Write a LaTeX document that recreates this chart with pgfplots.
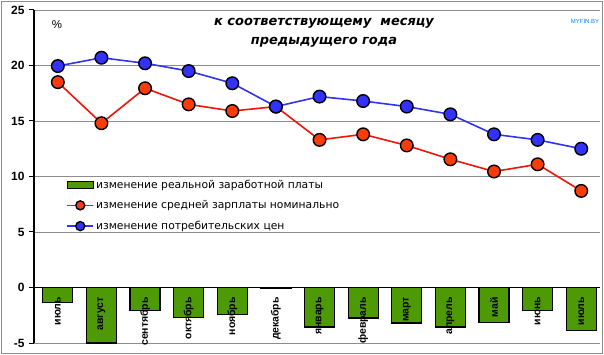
\documentclass[border=0pt]{standalone}
\usepackage{pgfplots}
\pgfplotsset{compat=1.18}
\usepackage{fontspec}
\setmainfont{DejaVu Sans}
\newfontfamily\arialf{Liberation Sans}
\definecolor{barg}{RGB}{78,154,6}
\definecolor{redl}{RGB}{240,20,10}
\definecolor{redm}{RGB}{250,60,10}
\definecolor{bluel}{RGB}{50,50,240}
\definecolor{bluem}{RGB}{50,50,250}
\definecolor{gridg}{RGB}{140,140,140}
\pgfplotsset{
  layers/mine/.define layer set={axis background,axis grid,axis ticks,axis lines,main,axis tick labels,axis descriptions,axis foreground}{
    grid style={/pgfplots/on layer=axis grid},
    tick style={/pgfplots/on layer=axis ticks},
    axis line style={/pgfplots/on layer=axis lines},
    label style={/pgfplots/on layer=axis descriptions},
    legend style={/pgfplots/on layer=axis descriptions},
    title style={/pgfplots/on layer=axis descriptions},
    colorbar style={/pgfplots/on layer=axis descriptions},
    ticklabel style={/pgfplots/on layer=axis tick labels},
  },
}
\begin{document}
\begin{tikzpicture}
\path (-34bp,-12bp) rectangle (570bp,343bp);
\draw[gridg, line width=1bp] (-32.5bp,-10.5bp) rectangle (568.5bp,341.5bp);
\begin{axis}[
  set layers=mine,
  scale only axis,
  width=566bp, height=333bp,
  xmin=-0.546, xmax=12.43,
  ymin=-5, ymax=25,
  ytick={-5,0,...,25},
  axis y line*=left,
  axis x line*=bottom,
  x axis line style={draw=none},
  y axis line style={black, line width=1.3bp},
  ytick style={black, line width=1bp},
  major tick length=5bp,
  tick align=outside,
  xtick={0,...,12},
  xtick style={draw=none},
  xticklabels={июль,август,сентябрь,октябрь,ноябрь,декабрь,январь,февраль,март,апрель,май,июнь,июль},
  xticklabel style={rotate=90, anchor=east, font=\arialf\bfseries\fontsize{10.5}{11}\selectfont, xshift=51bp, inner sep=0pt},
  yticklabel style={font=\arialf\bfseries\fontsize{12}{13}\selectfont, xshift=-1bp},
  /pgf/number format/assume math mode=true,
  ymajorgrids,
  grid style={gridg, line width=0.9bp},
  extra y ticks={0},
  extra y tick labels={},
  extra y tick style={grid style={black, line width=1.4bp}, major tick length=0pt},
  legend style={draw=none, fill=none, at={(axis description cs:0.057,0.497)}, anchor=north west,
    font=\fontsize{10.8}{12}\selectfont, row sep=7bp, inner sep=0pt},
  legend cell align=left,
  legend image code/.code={
    \draw[#1, mark repeat=2, mark phase=2, mark size=4.5bp] plot coordinates {(0bp,0bp) (13bp,0bp) (26bp,0bp)};},
  clip=false,
]
\addplot[ybar, bar width=30bp, fill=barg, draw=black, line width=1.2bp,
  legend image code/.code={\draw[fill=barg, draw=black, line width=1.2bp] (0bp,-3.5bp) rectangle (26bp,3.5bp);}]
  coordinates {(0,-1.35) (1,-5.0) (2,-2.1) (3,-2.7) (4,-2.4) (5,-0.1) (6,-3.55) (7,-2.75) (8,-3.2) (9,-3.55) (10,-3.15) (11,-2.1) (12,-3.9)};
\addlegendentry{изменение реальной заработной платы}
\addplot[redl, line width=1.6bp, mark=*, mark size=6.3bp, mark options={fill=redm, draw=black, line width=1.4bp}]
  coordinates {(0,18.5) (1,14.8) (2,17.95) (3,16.5) (4,15.9) (5,16.3) (6,13.3) (7,13.8) (8,12.8) (9,11.55) (10,10.45) (11,11.1) (12,8.7)};
\addlegendentry{изменение средней зарплаты номинально}
\addplot[bluel, line width=1.6bp, mark=*, mark size=6.3bp, mark options={fill=bluem, draw=black, line width=1.4bp}]
  coordinates {(0,19.95) (1,20.7) (2,20.2) (3,19.5) (4,18.4) (5,16.3) (6,17.2) (7,16.8) (8,16.3) (9,15.6) (10,13.8) (11,13.3) (12,12.5)};
\addlegendentry{изменение потребительских цен}
\end{axis}
\node[font=\arialf\fontsize{11.5}{12}\selectfont] at (23bp,318bp) {\%};
\node[font=\bfseries\itshape\fontsize{13}{15}\selectfont, align=center] at (290bp,310bp) {к соответствующему\ \ месяцу\\[4bp]предыдущего года};
\node[font=\arialf\fontsize{6}{7}\selectfont, text=blue!50!cyan] at (551bp,322bp) {MYFIN.BY};
\end{tikzpicture}
\end{document}
